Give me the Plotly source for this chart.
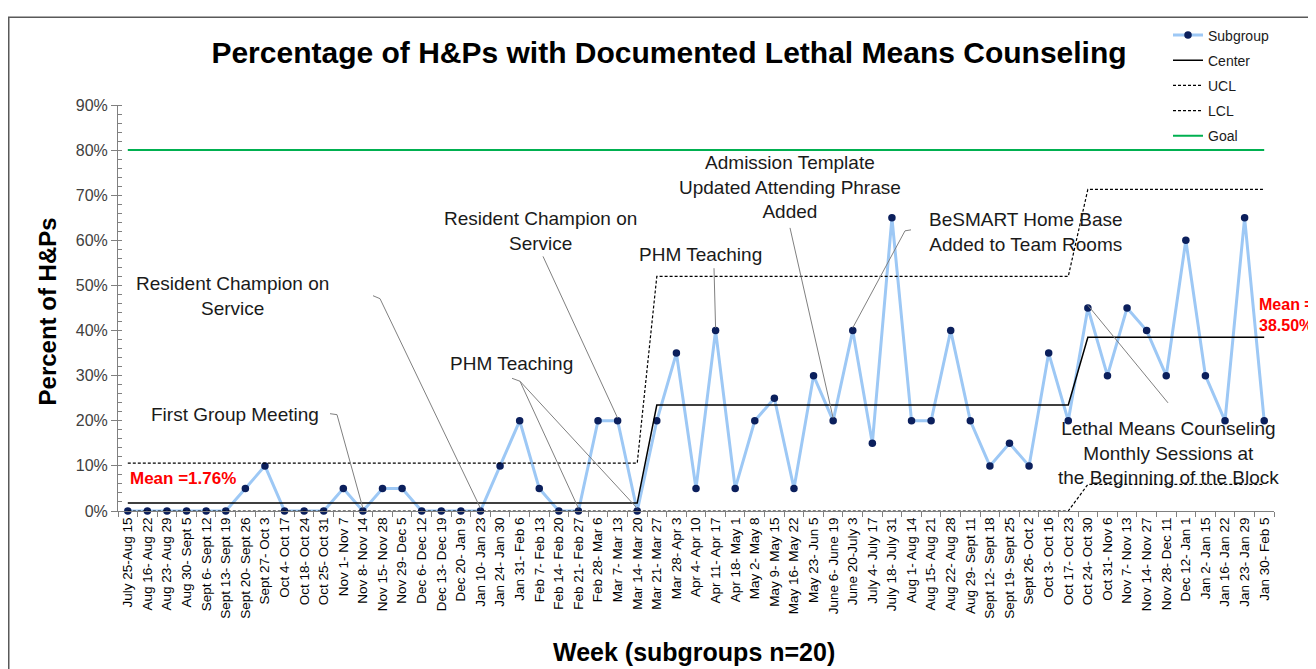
import plotly.graph_objects as go

# ---------------- data ----------------
weeks = ["July 25-Aug 15", "Aug 16- Aug 22", "Aug 23- Aug 29", "Aug 30- Sept 5", "Sept 6- Sept 12",
         "Sept 13- Sept 19", "Sept 20- Sept 26", "Sept 27- Oct 3", "Oct 4- Oct 17", "Oct 18- Oct 24",
         "Oct 25- Oct 31", "Nov 1- Nov 7", "Nov 8- Nov 14", "Nov 15- Nov 28", "Nov 29- Dec 5",
         "Dec 6- Dec 12", "Dec 13- Dec 19", "Dec 20- Jan 9", "Jan 10- Jan 23", "Jan 24- Jan 30",
         "Jan 31- Feb 6", "Feb 7- Feb 13", "Feb 14- Feb 20", "Feb 21- Feb 27", "Feb 28- Mar 6",
         "Mar 7- Mar 13", "Mar 14- Mar 20", "Mar 21- Mar 27", "Mar 28- Apr 3", "Apr 4- Apr 10",
         "Apr 11- Apr 17", "Apr 18- May 1", "May 2- May 8", "May 9- May 15", "May 16- May 22",
         "May 23- Jun 5", "June 6- June 19", "June 20-July 3", "July 4- July 17", "July 18- July 31",
         "Aug 1- Aug 14", "Aug 15- Aug 21", "Aug 22- Aug 28", "Aug 29- Sept 11", "Sept 12- Sept 18",
         "Sept 19- Sept 25", "Sept 26- Oct 2", "Oct 3- Oct 16", "Oct 17- Oct 23", "Oct 24- Oct 30",
         "Oct 31- Nov 6", "Nov 7- Nov 13", "Nov 14- Nov 27", "Nov 28- Dec 11", "Dec 12- Jan 1",
         "Jan 2- Jan 15", "Jan 16- Jan 22", "Jan 23- Jan 29", "Jan 30- Feb 5"]

subgroup = [0, 0, 0, 0, 0, 0, 5, 10, 0, 0, 0, 5, 0, 5, 5, 0, 0, 0, 0, 10,
            20, 5, 0, 0, 20, 20, 0, 20, 35, 5, 40, 5, 20, 25, 5, 30, 20, 40, 15, 65,
            20, 20, 40, 20, 10, 15, 10, 35, 20, 45, 30, 45, 40, 30, 60, 30, 20, 65, 20]

phase_lengths = [27, 22, 10]
center_phase = [1.76, 23.5, 38.5]
ucl_phase = [10.6, 52.0, 71.3]
lcl_phase = [0.0, 0.0, 5.9]
goal_value = 80

yticks = [0, 10, 20, 30, 40, 50, 60, 70, 80, 90]


def expand(vals):
    out = []
    for v, n in zip(vals, phase_lengths):
        out += [v] * n
    return out


center = expand(center_phase)
ucl = expand(ucl_phase)
lcl = expand(lcl_phase)
goal = [goal_value] * len(weeks)

# ---------------- layout geometry (page pixels) ----------------
OFF = 8                      # default body margin of the html page
PW, PH = 1316, 669
W, H = PW - OFF, PH - OFF    # figure size
L, R, T, B = 118, 1274, 98, 511   # plot area in page pixels
n = len(weeks)
step = (R - L) / n
YMAX = 90


def px2x(px):
    return (px - L) / step - 0.5


def py2y(py):
    return (B - py) / (B - T) * YMAX


def pxp(px):
    return (px - L) / (R - L)


def pyp(py):
    return (B - py) / (B - T)


FONT = "Arial, Liberation Sans, sans-serif"
dot = "3px,2px"

fig = go.Figure()
fig.add_trace(go.Scatter(x=weeks, y=subgroup, name="Subgroup", mode="lines+markers",
                         line=dict(color="#9DC8F5", width=3),
                         marker=dict(color="#0B1F5C", size=7.5), cliponaxis=False,
                         legendgroup="a"))
fig.add_trace(go.Scatter(x=weeks, y=center, name="Center", mode="lines",
                         line=dict(color="black", width=1.5), legendgroup="b"))
fig.add_trace(go.Scatter(x=weeks, y=ucl, name="UCL", mode="lines",
                         line=dict(color="black", width=1.2, dash=dot), legendgroup="c"))
fig.add_trace(go.Scatter(x=weeks, y=lcl, name="LCL", mode="lines", cliponaxis=False,
                         line=dict(color="black", width=1.2, dash=dot), legendgroup="d"))
fig.add_trace(go.Scatter(x=weeks, y=goal, name="Goal", mode="lines",
                         line=dict(color="#00B050", width=2), legendgroup="e"))

shapes = []
gray = "#808080"


def seg(x0, y0, x1, y1):
    shapes.append(dict(type="line", xref="x", yref="y", x0=x0, y0=y0, x1=x1, y1=y1,
                       line=dict(color=gray, width=1)))


def idx(label):
    return weeks.index(label)


def leader(pts_px, target_label):
    xs = [px2x(p[0]) for p in pts_px]
    ys = [py2y(p[1]) for p in pts_px]
    i = idx(target_label)
    xs.append(i)
    ys.append(subgroup[i] + 0.6)
    for k in range(len(xs) - 1):
        seg(xs[k], ys[k], xs[k + 1], ys[k + 1])


leader([(330, 412), (337, 413)], "Nov 8- Nov 14")
leader([(373, 292), (380, 295)], "Jan 10- Jan 23")
leader([(512, 376), (520, 379)], "Feb 21- Feb 27")
leader([(520, 379)], "Mar 14- Mar 20")
leader([(543, 252)], "Mar 7- Mar 13")
leader([(714, 264)], "Apr 11- Apr 17")
leader([(790, 223)], "June 6- June 19")
leader([(911, 225), (905, 226)], "June 20-July 3")
leader([(1168, 401)], "Oct 24- Oct 30")

# outer frame
shapes.append(dict(type="rect", xref="paper", yref="paper",
                   x0=pxp(OFF + 0.75), y0=pyp(PH + 20), x1=pxp(PW + 20), y1=pyp(OFF + 0.75),
                   line=dict(color="#595959", width=1.5)))

ann = []


def text(px, py, s, size=19, color="#1a1a1a", bold=False, xanchor="center"):
    if bold:
        s = "<b>" + s.replace("<br>", "</b><br><b>") + "</b>"
    ann.append(dict(xref="paper", yref="paper", x=pxp(px), y=pyp(py), text=s,
                    showarrow=False, xanchor=xanchor, yanchor="middle",
                    font=dict(family=FONT, size=size, color=color), align="center"))


text(235, 413, "First Group Meeting")
text(232, 292, "Resident Champion on<br>Service")
text(511, 361, "PHM Teaching")
text(540, 226, "Resident Champion on<br>Service")
text(700, 250, "PHM Teaching")
text(790, 181, "Admission Template<br>Updated Attending Phrase<br>Added")
text(1026, 227, "BeSMART Home Base<br>Added to Team Rooms")
text(1168, 452, "Lethal Means Counseling<br>Monthly Sessions at<br>the Beginning of the Block")
text(128, 478, "Mean =1.76%", size=17, color="#FF0000", bold=True, xanchor="left")
text(1257, 312, "Mean =<br>38.50%", size=16, color="#FF0000", bold=True, xanchor="left")
ann[-1]["align"] = "left"

# axis titles
ann.append(dict(xref="paper", yref="paper", x=pxp(47), y=pyp(308), text="<b>Percent of H&Ps</b>",
                showarrow=False, textangle=-90, xanchor="center", yanchor="middle",
                font=dict(family=FONT, size=24, color="black")))
ann.append(dict(xref="paper", yref="paper", x=pxp(694), y=pyp(654),
                text="<b>Week (subgroups n=20)</b>", showarrow=False,
                xanchor="center", yanchor="middle",
                font=dict(family=FONT, size=25, color="black")))

fig.update_layout(
    width=W, height=H,
    margin=dict(l=L - OFF, r=PW - R, t=T - OFF, b=PH - B),
    paper_bgcolor="white", plot_bgcolor="white",
    title=dict(text="<b>Percentage of H&Ps with Documented Lethal Means Counseling</b>",
               x=pxp(669), xref="paper", y=1 - (52 - OFF) / H, yref="container",
               xanchor="center", yanchor="middle",
               font=dict(family=FONT, size=30, color="black")),
    showlegend=True,
    legend=dict(x=pxp(1168), y=pyp(11), xanchor="left", yanchor="top",
                bgcolor="rgba(0,0,0,0)", tracegroupgap=4,
                font=dict(family=FONT, size=14, color="#1a1a1a"), itemwidth=30),
    shapes=shapes, annotations=ann,
    font=dict(family=FONT),
)
fig.update_xaxes(type="category", categoryorder="array", categoryarray=weeks,
                 range=[-0.5, n - 0.5], tickangle=-90, tickson="boundaries",
                 ticks="outside", ticklen=5, tickcolor="#808080",
                 showline=True, linecolor="#808080", linewidth=1, showgrid=False,
                 tickfont=dict(family=FONT, size=13.5, color="black"))
fig.update_yaxes(range=[0, YMAX], tickvals=yticks, ticktext=[f"{v}%" for v in yticks],
                 ticks="outside", ticklen=6, tickcolor="#808080",
                 minor=dict(dtick=2, ticks="inside", ticklen=4, tickcolor="#808080", showgrid=False),
                 showline=True, linecolor="#808080", linewidth=1, showgrid=False, zeroline=False,
                 tickfont=dict(family=FONT, size=16, color="#404040"))

fig.write_html("out.html")
